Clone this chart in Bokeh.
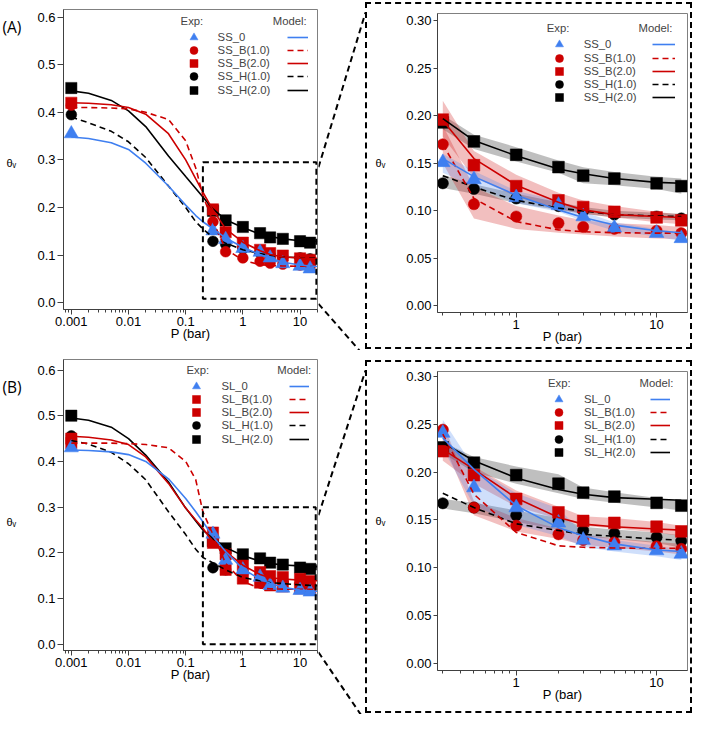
from bokeh.plotting import figure
from bokeh.layouts import row, column
from bokeh.models import (FixedTicker, PrintfTickFormatter, Legend, LegendItem,
                          BoxAnnotation, Range1d)
from bokeh.core.properties import value
from bokeh.embed import file_html
from bokeh.resources import INLINE

# ---------------- data ----------------
P_EXP = [0.001, 0.3, 0.5, 1, 2, 3, 5, 10, 15]
P_MODEL = [0.001, 0.002, 0.005, 0.01, 0.02, 0.05, 0.1, 0.15, 0.2, 0.3, 0.5, 1, 2, 3, 5, 10, 15, 20]
P_BAND = [0.3, 0.5, 1, 2, 3, 5, 10, 15]

# (A) SS series - experimental
SS_0 = [0.355, 0.151, 0.133, 0.114, 0.106, 0.094, 0.082, 0.0765, 0.071]
SS_B1 = [0.415, 0.170, 0.107, 0.094, 0.087, 0.083, 0.081, 0.079, 0.0765]
SS_B2 = [0.420, 0.196, 0.148, 0.126, 0.111, 0.104, 0.099, 0.093, 0.090]
SS_H1 = [0.395, 0.129, 0.123, 0.113, 0.105, 0.100, 0.096, 0.094, 0.092]
SS_H2 = [0.451, 0.193, 0.173, 0.159, 0.146, 0.137, 0.134, 0.129, 0.126]
# (A) model
M_SS_0 = [0.348, 0.345, 0.336, 0.322, 0.293, 0.245, 0.205, 0.183, 0.170, 0.155, 0.136, 0.1165, 0.101, 0.093, 0.085, 0.079, 0.077, 0.076]
M_SS_B1 = [0.410, 0.410, 0.409, 0.407, 0.400, 0.385, 0.340, 0.283, 0.225, 0.170, 0.113, 0.0887, 0.080, 0.078, 0.077, 0.0765, 0.0765, 0.0765]
M_SS_B2 = [0.420, 0.419, 0.416, 0.410, 0.396, 0.355, 0.300, 0.260, 0.232, 0.195, 0.155, 0.127, 0.109, 0.101, 0.096, 0.094, 0.093, 0.093]
M_SS_H1 = [0.390, 0.378, 0.360, 0.338, 0.305, 0.245, 0.200, 0.170, 0.155, 0.137, 0.125, 0.111, 0.103, 0.0998, 0.096, 0.0946, 0.094, 0.094]
M_SS_H2 = [0.445, 0.440, 0.425, 0.403, 0.370, 0.308, 0.265, 0.240, 0.222, 0.197, 0.174, 0.158, 0.144, 0.139, 0.134, 0.130, 0.129, 0.129]
# (A) uncertainty bands
SS_0_LO = [0.140, 0.125, 0.108, 0.099, 0.089, 0.079, 0.073, 0.068]
SS_0_HI = [0.160, 0.142, 0.121, 0.111, 0.099, 0.088, 0.081, 0.077]
SS_B1_LO = [0.150, 0.092, 0.081, 0.077, 0.075, 0.073, 0.071, 0.070]
SS_B1_HI = [0.190, 0.125, 0.105, 0.095, 0.090, 0.087, 0.085, 0.083]
SS_B2_LO = [0.178, 0.135, 0.115, 0.102, 0.097, 0.093, 0.088, 0.086]
SS_B2_HI = [0.216, 0.163, 0.138, 0.119, 0.111, 0.105, 0.099, 0.096]
SS_H1_LO = [0.124, 0.118, 0.108, 0.101, 0.097, 0.093, 0.091, 0.090]
SS_H1_HI = [0.138, 0.128, 0.118, 0.109, 0.104, 0.100, 0.098, 0.097]
SS_H2_LO = [0.186, 0.165, 0.152, 0.140, 0.129, 0.127, 0.123, 0.118]
SS_H2_HI = [0.201, 0.180, 0.167, 0.153, 0.146, 0.141, 0.136, 0.134]

# (B) SL series - experimental
SL_0 = [0.430, 0.241, 0.184, 0.163, 0.147, 0.129, 0.123, 0.118, 0.1145]
SL_B1 = [0.440, 0.2445, 0.163, 0.144, 0.135, 0.129, 0.1266, 0.1224, 0.1197]
SL_B2 = [0.450, 0.222, 0.197, 0.172, 0.158, 0.149, 0.147, 0.143, 0.138]
SL_H1 = [0.456, 0.1675, 0.163, 0.155, 0.149, 0.139, 0.136, 0.132, 0.128]
SL_H2 = [0.500, 0.226, 0.210, 0.197, 0.188, 0.1786, 0.1745, 0.168, 0.165]
# (B) model
M_SL_0 = [0.425, 0.424, 0.421, 0.415, 0.400, 0.362, 0.319, 0.290, 0.268, 0.236, 0.203, 0.165, 0.142, 0.1335, 0.125, 0.1186, 0.117, 0.116]
M_SL_B1 = [0.440, 0.440, 0.440, 0.439, 0.437, 0.430, 0.400, 0.360, 0.290, 0.240, 0.177, 0.137, 0.123, 0.1214, 0.1207, 0.1204, 0.1204, 0.1204]
M_SL_B2 = [0.455, 0.453, 0.447, 0.437, 0.410, 0.352, 0.298, 0.272, 0.254, 0.224, 0.203, 0.173, 0.1526, 0.1457, 0.143, 0.1405, 0.1394, 0.139]
M_SL_H1 = [0.446, 0.438, 0.420, 0.395, 0.360, 0.290, 0.240, 0.208, 0.190, 0.178, 0.163, 0.146, 0.139, 0.135, 0.133, 0.130, 0.129, 0.1285]
M_SL_H2 = [0.495, 0.490, 0.475, 0.450, 0.414, 0.355, 0.298, 0.270, 0.250, 0.231, 0.212, 0.194, 0.182, 0.177, 0.1734, 0.1717, 0.1707, 0.170]
# (B) uncertainty bands
SL_0_LO = [0.225, 0.165, 0.145, 0.133, 0.122, 0.117, 0.112, 0.108]
SL_0_HI = [0.255, 0.205, 0.178, 0.162, 0.136, 0.129, 0.123, 0.119]
SL_B1_LO = [0.232, 0.155, 0.138, 0.130, 0.124, 0.121, 0.117, 0.114]
SL_B1_HI = [0.252, 0.170, 0.152, 0.141, 0.134, 0.131, 0.127, 0.125]
SL_B2_LO = [0.212, 0.188, 0.164, 0.151, 0.144, 0.141, 0.137, 0.133]
SL_B2_HI = [0.232, 0.206, 0.181, 0.164, 0.154, 0.152, 0.148, 0.144]
SL_H1_LO = [0.162, 0.157, 0.148, 0.140, 0.133, 0.130, 0.126, 0.121]
SL_H1_HI = [0.172, 0.168, 0.160, 0.152, 0.143, 0.140, 0.137, 0.134]
SL_H2_LO = [0.220, 0.200, 0.188, 0.178, 0.172, 0.168, 0.163, 0.160]
SL_H2_HI = [0.232, 0.216, 0.206, 0.198, 0.184, 0.179, 0.173, 0.170]

# tick labels / texts
X_TICKS_LEFT = [0.001, 0.01, 0.1, 1, 10]
X_TICKS_RIGHT = [1, 10]
Y_TICKS_LEFT = [0.0, 0.1, 0.2, 0.3, 0.4, 0.5, 0.6]
Y_TICKS_RIGHT = [0.0, 0.05, 0.10, 0.15, 0.20, 0.25, 0.30]
X_MINOR = [m * 10.0 ** e for e in range(-4, 2) for m in range(2, 10)]
Y_LABEL = "θᵥ"
X_LABEL = "P (bar)"

# ---------------- style / layout ----------------
S = 0.98
FONT = "Liberation Sans"
FS = "13px"
LFS = "11.3px"
PITCH = 13.2
BLUE = "#3F7FF0"
RED = "#CC0000"
BLACK = "#000000"
DASH = "6 4"
AXC = "#404040"

SERIES_A = [
    ("SS_0", SS_0, M_SS_0, SS_0_LO, SS_0_HI, BLUE, "triangle", "solid"),
    ("SS_B(1.0)", SS_B1, M_SS_B1, SS_B1_LO, SS_B1_HI, RED, "circle", DASH),
    ("SS_B(2.0)", SS_B2, M_SS_B2, SS_B2_LO, SS_B2_HI, RED, "square", "solid"),
    ("SS_H(1.0)", SS_H1, M_SS_H1, SS_H1_LO, SS_H1_HI, BLACK, "circle", DASH),
    ("SS_H(2.0)", SS_H2, M_SS_H2, SS_H2_LO, SS_H2_HI, BLACK, "square", "solid"),
]
SERIES_B = [
    ("SL_0", SL_0, M_SL_0, SL_0_LO, SL_0_HI, BLUE, "triangle", "solid"),
    ("SL_B(1.0)", SL_B1, M_SL_B1, SL_B1_LO, SL_B1_HI, RED, "circle", DASH),
    ("SL_B(2.0)", SL_B2, M_SL_B2, SL_B2_LO, SL_B2_HI, RED, "square", "solid"),
    ("SL_H(1.0)", SL_H1, M_SL_H1, SL_H1_LO, SL_H1_HI, BLACK, "circle", DASH),
    ("SL_H(2.0)", SL_H2, M_SL_H2, SL_H2_LO, SL_H2_HI, BLACK, "square", "solid"),
]
DRAW_ORDER = [3, 4, 1, 2, 0]

TAG_W = 27
# canvas borders / frame sizes (px)
GEO = {
    "LA": dict(bl=63 - TAG_W, fw=254, br=1, bt=5, fh=300, bb=45),
    "RA": dict(bl=70, fw=246, br=7, bt=9, fh=295, bb=39),
    "LB": dict(bl=63 - TAG_W, fw=254, br=1, bt=8, fh=291, bb=65),
    "RB": dict(bl=70, fw=246, br=7, bt=9, fh=295, bb=45),
}
RIGHT_MARGIN_TOP = {"RA": 2, "RB": 10}
BORDER = 2
CONN_W = 47
# legend placement measured on the reference (reference pixels)
LEG = {
    "LA": dict(fl=64, ft=5, exp=184, mk=197, lab=222, model=278, l0=293, l1=314, first=33.3),
    "RA": dict(fl=446, ft=13, exp=558, mk=570, lab=595.5, model=651.7, l0=665, l1=688, first=41),
    "LB": dict(fl=64, ft=365, exp=190, mk=200, lab=226, model=282.7, l0=295, l1=315, first=392.3),
    "RB": dict(fl=446, ft=378.3, exp=559.3, mk=570, lab=596, model=652.7, l0=663.3, l1=684, first=402.7),
}
X_RANGE_LEFT = (0.00073, 20.2)
X_RANGE_RIGHT = (0.275, 16.6)
Y_RANGE = {"LA": (-0.0144, 0.616), "LB": (-0.0135, 0.623),
           "RA": (-0.007, 0.3077), "RB": (-0.0076, 0.3055)}
INSET = {"LA": (0.2, 19.3, 0.008, 0.295), "LB": (0.2, 18.8, 0.0, 0.30)}
TAG_POS = {"LA": (2, 17.5), "LB": (2, 27.3)}
THETA_POS = {"LA": (10.8, 153.6), "LB": (10.8, 162.8)}
SIZES_L = {"triangle": 14.5 * S, "circle": 11 * S, "square": 11.5 * S}
SIZES_R = {"triangle": 15 * S, "circle": 11.5 * S, "square": 12 * S}


def canvas_h(key):
    g = GEO[key]
    return g["bt"] + g["fh"] + g["bb"]


def style_axes(p, left):
    xa, ya = p.xaxis[0], p.yaxis[0]
    xa.ticker = FixedTicker(ticks=X_TICKS_LEFT if left else X_TICKS_RIGHT, minor_ticks=X_MINOR)
    xa.formatter = PrintfTickFormatter(format="%g")
    ya.ticker = FixedTicker(ticks=Y_TICKS_LEFT if left else Y_TICKS_RIGHT)
    ya.formatter = PrintfTickFormatter(format="%.1f" if left else "%.2f")
    for ax in (xa, ya):
        ax.axis_line_color = AXC
        ax.major_tick_line_color = AXC
        ax.minor_tick_line_color = AXC
        ax.major_tick_in = 0
        ax.minor_tick_in = 0
        ax.major_label_text_font = FONT
        ax.major_label_text_font_size = FS
        ax.major_label_text_color = "black"
        ax.axis_label_text_font = FONT
        ax.axis_label_text_font_style = "normal"
        ax.axis_label_text_color = "black"
    xa.major_tick_out = 5
    xa.minor_tick_out = 3
    xa.major_label_standoff = 2
    xa.axis_label = X_LABEL
    xa.axis_label_text_font_size = FS
    xa.axis_label_standoff = -3
    ya.major_tick_out = 6 if left else 4
    ya.major_label_standoff = 2
    if not left:
        ya.axis_label = Y_LABEL
        ya.axis_label_orientation = "horizontal"
        ya.axis_label_text_font_size = "11px"
        ya.axis_label_standoff = 18


def base_fig(key, left, **kw):
    g = GEO[key]
    p = figure(x_axis_type="log",
               x_range=Range1d(*(X_RANGE_LEFT if left else X_RANGE_RIGHT)),
               y_range=Range1d(*Y_RANGE[key]),
               frame_width=g["fw"], frame_height=g["fh"],
               min_border_left=g["bl"], min_border_right=g["br"],
               min_border_top=g["bt"], min_border_bottom=g["bb"],
               toolbar_location=None, output_backend="svg",
               background_fill_color="white", border_fill_color="white", **kw)
    p.xgrid.visible = False
    p.ygrid.visible = False
    p.outline_line_color = "#808080"
    p.outline_line_width = 1
    style_axes(p, left)
    return p


def add_legends(p, key, marker_rs, line_rs, names):
    g, L = GEO[key], LEG[key]
    gw = round(2 * (L["mk"] - L["exp"]) * S)
    st = round((L["lab"] - L["exp"]) * S - gw)
    common = dict(glyph_height=20, label_height=20, spacing=0, padding=0, margin=0,
                  border_line_alpha=0, background_fill_alpha=0,
                  label_text_font=FONT, label_text_font_size=LFS,
                  title_text_font=FONT, title_text_font_size=LFS,
                  title_text_font_style="normal", title_standoff=-3)
    y0 = (L["first"] - L["ft"]) * S
    for k in range(5):
        yc = y0 + k * PITCH
        vy = g["fh"] - (yc + 10)
        p.add_layout(Legend(items=[LegendItem(label=names[k], renderers=[marker_rs[k]])],
                            location=((L["exp"] - L["fl"]) * S, vy),
                            title="Exp:" if k == 0 else None,
                            glyph_width=gw, label_standoff=st, **common))
        p.add_layout(Legend(items=[LegendItem(label=" ", renderers=[line_rs[k]])],
                            location=((L["l0"] - L["fl"]) * S, vy),
                            glyph_width=round((L["l1"] - L["l0"]) * S),
                            label_standoff=0, label_width=0, **common))
    # "Model:" heading, carried by an invisible one-row legend aligned with the first row
    dummy = p.scatter([], [], size=0, fill_alpha=0, line_alpha=0)
    p.add_layout(Legend(items=[LegendItem(label=" ", renderers=[dummy])],
                        location=((L["model"] - L["fl"]) * S, g["fh"] - (y0 + 10)),
                        title="Model:", glyph_width=1, label_standoff=0, label_width=0,
                        **common))


def left_panel(key, series, square_b1=False):
    p = base_fig(key, True)
    mrs, lrs = [None] * 5, [None] * 5
    for i in DRAW_ORDER:
        name, exp, model, lo, hi, color, marker, dash = series[i]
        if square_b1 and i == 1:
            marker = "square"
        mrs[i] = p.scatter(P_EXP, exp, marker=marker, size=SIZES_L[marker],
                           fill_color=color, line_color=color, line_width=0.5)
    for i in DRAW_ORDER:
        name, exp, model, lo, hi, color, marker, dash = series[i]
        lrs[i] = p.line(P_MODEL, model, line_color=color, line_width=1.6, line_dash=dash)
    add_legends(p, key, mrs, lrs, [s[0] for s in series])
    x0, x1, y0, y1 = INSET[key]
    p.add_layout(BoxAnnotation(left=x0, right=x1, bottom=y0, top=y1,
                               fill_alpha=0, line_alpha=1,
                               line_color="black", line_width=2, line_dash=DASH))
    return p


def right_panel(key, series):
    p = base_fig(key, False,
                 styles={"border": f"{BORDER}px dashed black"},
                 margin=(RIGHT_MARGIN_TOP[key], 0, 0, 0))
    for i in DRAW_ORDER:
        name, exp, model, lo, hi, color, marker, dash = series[i]
        p.varea(x=P_BAND, y1=lo, y2=hi, fill_color=color, fill_alpha=0.25)
    mrs, lrs = [None] * 5, [None] * 5
    for i in DRAW_ORDER:
        name, exp, model, lo, hi, color, marker, dash = series[i]
        mrs[i] = p.scatter(P_EXP, exp, marker=marker, size=SIZES_R[marker],
                           fill_color=color, line_color=color, line_width=0.5)
    for i in DRAW_ORDER:
        name, exp, model, lo, hi, color, marker, dash = series[i]
        lrs[i] = p.line(P_MODEL[9:17], model[9:17], line_color=color, line_width=1.6,
                        line_dash=dash)
    add_legends(p, key, mrs, lrs, [s[0] for s in series])
    return p


def blank_fig(w, h):
    c = figure(x_range=Range1d(0, w), y_range=Range1d(h, 0),
               frame_width=w, frame_height=h,
               min_border_left=0, min_border_right=0, min_border_top=0, min_border_bottom=0,
               x_axis_location=None, y_axis_location=None,
               toolbar_location=None, output_backend="svg",
               background_fill_color="white", border_fill_color="white")
    c.xgrid.visible = False
    c.ygrid.visible = False
    c.outline_line_alpha = 0
    return c


def tag_strip(lkey, tag):
    """Panel letter and y-axis title of the left panel."""
    t = blank_fig(TAG_W, canvas_h(lkey))
    tx, ty = TAG_POS[lkey]
    t.text(x=[tx], y=[ty], text=[tag], text_font=value("Open Sans"),
           text_font_size="15.5px", text_baseline="middle", text_align="left",
           text_color="black")
    hx, hy = THETA_POS[lkey]
    t.text(x=[hx], y=[hy], text=[Y_LABEL], text_font=value(FONT),
           text_font_size="11px", text_baseline="middle", text_align="center",
           text_color="black")
    return t


def connector(lkey, rkey):
    """Dashed zoom lines from the inset box (left panel) to the right panel's box."""
    g = GEO[lkey]
    h = canvas_h(lkey)
    ylo, yhi = Y_RANGE[lkey]
    x0, x1, b0, b1 = INSET[lkey]
    to_px = lambda v: g["bt"] + (yhi - v) / (yhi - ylo) * g["fh"]
    top_end = RIGHT_MARGIN_TOP[rkey] + BORDER / 2
    bot_end = RIGHT_MARGIN_TOP[rkey] + canvas_h(rkey) + 1.5 * BORDER
    c = blank_fig(CONN_W, h)
    c.line([0, CONN_W], [to_px(b1), top_end], line_color="black", line_width=2, line_dash=DASH)
    c.line([0, CONN_W], [to_px(b0), bot_end], line_color="black", line_width=2, line_dash=DASH)
    return c


la = left_panel("LA", SERIES_A)
ra = right_panel("RA", SERIES_A)
lb = left_panel("LB", SERIES_B, square_b1=True)
rb = right_panel("RB", SERIES_B)

layout = column(row(tag_strip("LA", "(A)"), la, connector("LA", "RA"), ra),
                row(tag_strip("LB", "(B)"), lb, connector("LB", "RB"), rb))

with open("out.html", "w") as f:
    f.write(file_html(layout, INLINE))
